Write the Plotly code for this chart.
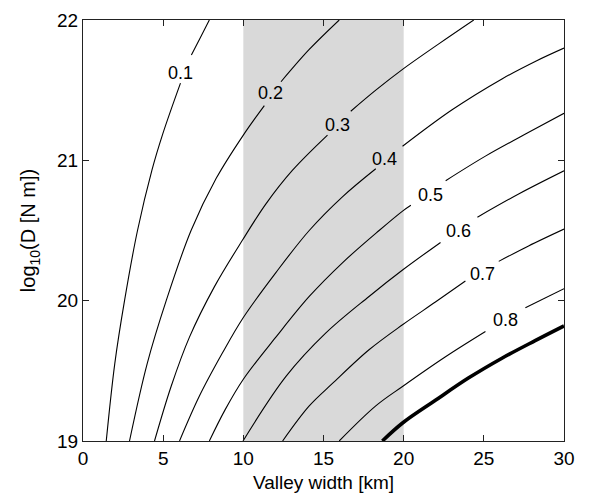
import plotly.graph_objects as go

# ---- data ----
levels = ["0.1", "0.2", "0.3", "0.4", "0.5", "0.6", "0.7", "0.8", "0.9"]

c01_x = [1.45, 1.98, 2.59, 3.40, 4.30, 4.98, 6.08, None, 6.76, 7.3, 7.88]
c01_y = [19.0, 19.55, 20.0, 20.5, 20.93, 21.19, 21.55, None, 21.75, 21.87, 22.0]

c02_x = [2.90, 4.0, 5.19, 6.74, 8.3, 10.0, 11.31, None, 12.35, 14.11, 15.98]
c02_y = [19.0, 19.55, 20.0, 20.5, 20.87, 21.18, 21.39, None, 21.56, 21.79, 22.0]

c03_x = [4.46, 5.50, 6.64, 8.2, 9.94, 11.41, 13.07, 15.25, None, 16.7, 18.26, 19.95, 22.19, 24.37]
c03_y = [19.0, 19.39, 19.74, 20.10, 20.43, 20.69, 20.93, 21.18, None, 21.35, 21.50, 21.65, 21.83, 22.0]

c04_x = [6.02, 7.26, 8.71, 10.0, 12.03, 14.11, 16.18, 18.26, None, 19.93, 23.02, 26.13, 28.3, 30.0]
c04_y = [19.0, 19.32, 19.63, 19.88, 20.20, 20.50, 20.74, 20.94, None, 21.10, 21.36, 21.58, 21.71, 21.80]

c05_x = [7.88, 8.85, 10.0, 12.03, 14.11, 16.18, 18.47, 19.95, 20.45, None, 22.62, 25.1, 27.8, 30.0]
c05_y = [19.0, 19.22, 19.44, 19.74, 20.03, 20.27, 20.50, 20.64, 20.68, None, 20.855, 21.03, 21.2, 21.335]

c06_x = [9.98, 12.66, 15.15, 17.84, 19.95, 22.3, None, 24.6, 27.17, 30.0]
c06_y = [19.0, 19.46, 19.77, 20.03, 20.22, 20.415, None, 20.595, 20.76, 20.925]

c07_x = [12.45, 14.11, 15.56, 17.84, 19.95, 21.98, 23.85, None, 25.93, 27.79, 30.0]
c07_y = [19.0, 19.25, 19.41, 19.65, 19.83, 19.99, 20.14, None, 20.28, 20.39, 20.51]

c08_x = [15.98, 18.26, 19.95, 22.61, 25.1, None, 27.59, 30.0]
c08_y = [19.0, 19.25, 19.39, 19.60, 19.78, None, 19.95, 20.085]

c09_x = [18.67, 19.95, 21.98, 24.06, 26.13, 28.2, 30.0]
c09_y = [19.0, 19.13, 19.29, 19.45, 19.59, 19.715, 19.82]

label_text = ["0.1", "0.2", "0.3", "0.4", "0.5", "0.6", "0.7", "0.8"]
label_x = [6.07, 11.7, 15.9, 18.8, 21.66, 23.44, 24.94, 26.36]
label_y = [21.62, 21.48, 21.25, 21.01, 20.755, 20.50, 20.19, 19.865]

band_x = [10, 20]
x_ticks = [0, 5, 10, 15, 20, 25, 30]
y_ticks = [19, 20, 21, 22]
x_range = [0, 30]
y_range = [19, 22]

FONT = "Liberation Sans, Arial, Helvetica, sans-serif"

curves_x = [c01_x, c02_x, c03_x, c04_x, c05_x, c06_x, c07_x, c08_x, c09_x]
curves_y = [c01_y, c02_y, c03_y, c04_y, c05_y, c06_y, c07_y, c08_y, c09_y]

fig = go.Figure()
for lvl, cx, cy in zip(levels, curves_x, curves_y):
    thick = lvl == "0.9"
    fig.add_trace(go.Scatter(
        x=cx, y=cy, mode="lines", name=lvl, connectgaps=False,
        line=dict(color="black", width=3.6 if thick else 1.1, shape="spline", smoothing=1.0),
        hoverinfo="skip", showlegend=False,
    ))

fig.add_shape(type="rect", xref="x", yref="y",
              x0=band_x[0], x1=band_x[1], y0=y_range[0], y1=y_range[1],
              fillcolor="#d9d9d9", line=dict(width=0), layer="below")

for t, lx, ly in zip(label_text, label_x, label_y):
    fig.add_annotation(x=lx, y=ly, text=t, showarrow=False,
                       xanchor="center", yanchor="middle",
                       font=dict(family=FONT, size=18, color="black"))

axis_common = dict(
    showgrid=False, zeroline=False, showline=True, mirror="ticks",
    linecolor="#222222", linewidth=1.2, ticks="inside", ticklen=6,
    tickcolor="#222222", tickwidth=1.2, automargin=False,
    tickfont=dict(family=FONT, size=19, color="black"),
)

fig.update_xaxes(range=x_range, tickvals=x_ticks, **axis_common,
                 title=dict(text="Valley width [km]", standoff=7,
                            font=dict(family=FONT, size=19, color="black")))
fig.update_yaxes(range=y_range, tickvals=y_ticks, **axis_common,
                 title=dict(text="log<sub>10</sub>(D [N m])", standoff=15,
                            font=dict(family=FONT, size=20, color="black")))

# the page body has an 8px default margin, so margins are shifted by 8px
fig.update_layout(
    width=590, height=500,
    margin=dict(l=75, r=34, t=12, b=67, pad=0),
    plot_bgcolor="white", paper_bgcolor="white",
    font=dict(family=FONT, color="black"),
)

fig.write_html("out.html")
